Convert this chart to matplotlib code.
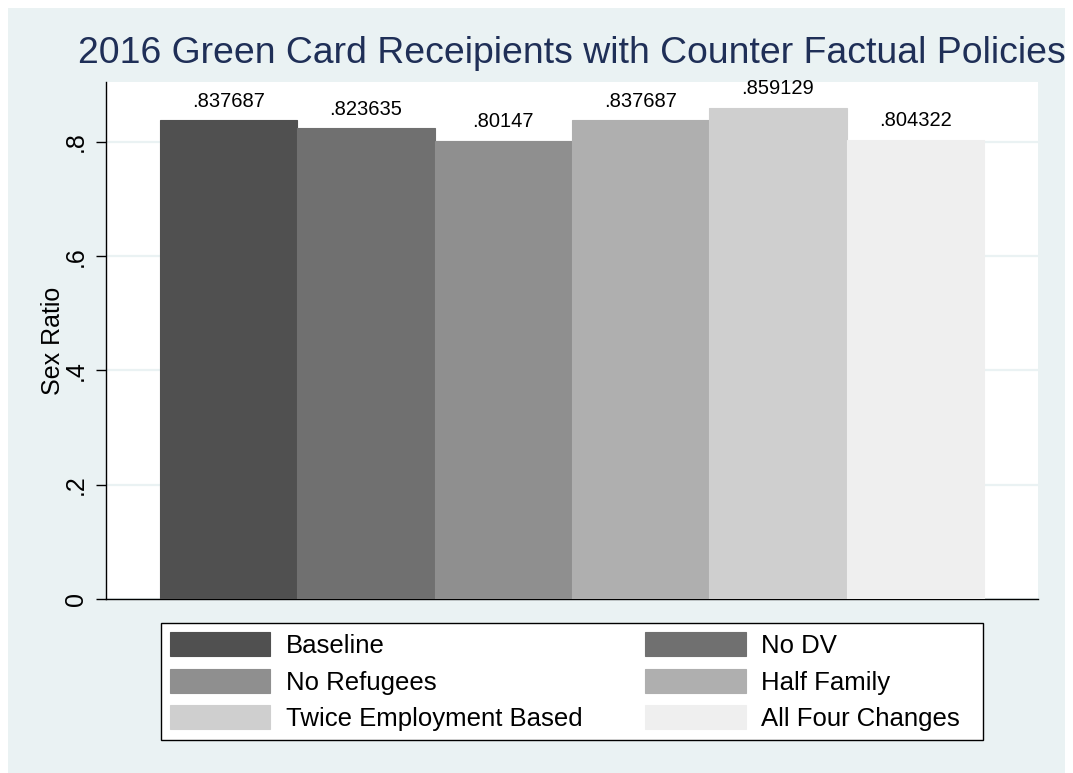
import numpy as np
import matplotlib.pyplot as plt
from matplotlib.patches import Rectangle

plt.rcParams['font.family'] = ['Liberation Sans', 'DejaVu Sans']

policies = ['Baseline', 'No DV', 'No Refugees', 'Half Family',
            'Twice Employment Based', 'All Four Changes']
sex_ratio = [0.837687, 0.823635, 0.80147, 0.837687, 0.859129, 0.804322]
value_labels = ['.837687', '.823635', '.80147', '.837687', '.859129', '.804322']
yticks = [0, 0.2, 0.4, 0.6, 0.8]
ytick_labels = ['0', '.2', '.4', '.6', '.8']

bar_colors = ['#505050', '#707070', '#8f8f8f', '#afafaf', '#cfcfcf', '#efefef']
bg = '#eaf2f3'
W, H = 1073, 773

fig = plt.figure(figsize=(W / 100, H / 100), dpi=100, facecolor='white')
fig.patches.append(Rectangle((8 / W, 0), (1065 - 8) / W, (H - 8) / H,
                             transform=fig.transFigure, facecolor=bg,
                             edgecolor='none', zorder=-10))

ax = fig.add_axes([106 / W, 1 - 599 / H, (1038 - 106) / W, (599 - 82) / H])
ax.set_facecolor('white')

x = np.arange(len(policies))
bars = ax.bar(x, sex_ratio, width=1.0, color=bar_colors, edgecolor=bar_colors,
              linewidth=0.8, zorder=3)
for xi, v, lab in zip(x, sex_ratio, value_labels):
    ax.annotate(lab, (xi, v), xytext=(0, 7), textcoords='offset points',
                ha='center', va='bottom', fontsize=14.5, color='black', zorder=4)

pad = 54 / 137.33
ax.set_xlim(-0.5 - pad, len(policies) - 0.5 + pad)
ax.set_ylim(0, 0.905)
ax.set_xticks([])
ax.set_yticks(yticks)
ax.set_yticklabels(ytick_labels, rotation=90, va='center', fontsize=18)
ax.tick_params(axis='y', length=7, width=1, direction='out', pad=6)
ax.grid(axis='y', color=bg, linewidth=1.6, zorder=1)
for s in ['top', 'right']:
    ax.spines[s].set_visible(False)
for s in ['left', 'bottom']:
    ax.spines[s].set_linewidth(1)
    ax.spines[s].set_color('black')

ax.set_ylabel('Sex Ratio', fontsize=18)
ax.yaxis.set_label_coords(-41 / 932, 0.5)

fig.suptitle('2016 Green Card Receipients with Counter Factual Policies',
             x=572 / W, y=1 - 36 / H, va='top', ha='center',
             fontsize=26.9, color='#1f2f57')

# row-wise legend order, padded second column labels keep the right margin
order = [0, 2, 4, 1, 3, 5]
handles = [bars[i] for i in order]
labels = [policies[i] for i in order]
labels = labels[:3] + [s + '  ' for s in labels[3:]]
leg = fig.legend(handles, labels, ncol=2, mode='expand',
                 bbox_to_anchor=(161 / W, 1 - 740 / H, (983 - 161) / W, (740 - 616) / H),
                 loc='lower left', fontsize=18.5, frameon=True, fancybox=False,
                 edgecolor='black', facecolor='white', framealpha=1,
                 handlelength=3.9, handleheight=1.05, labelspacing=0.42,
                 handletextpad=0.6, borderpad=0.35, columnspacing=1.0,
                 borderaxespad=0)
leg.get_frame().set_linewidth(1)

fig.savefig('out.png', dpi=100, facecolor='white')
